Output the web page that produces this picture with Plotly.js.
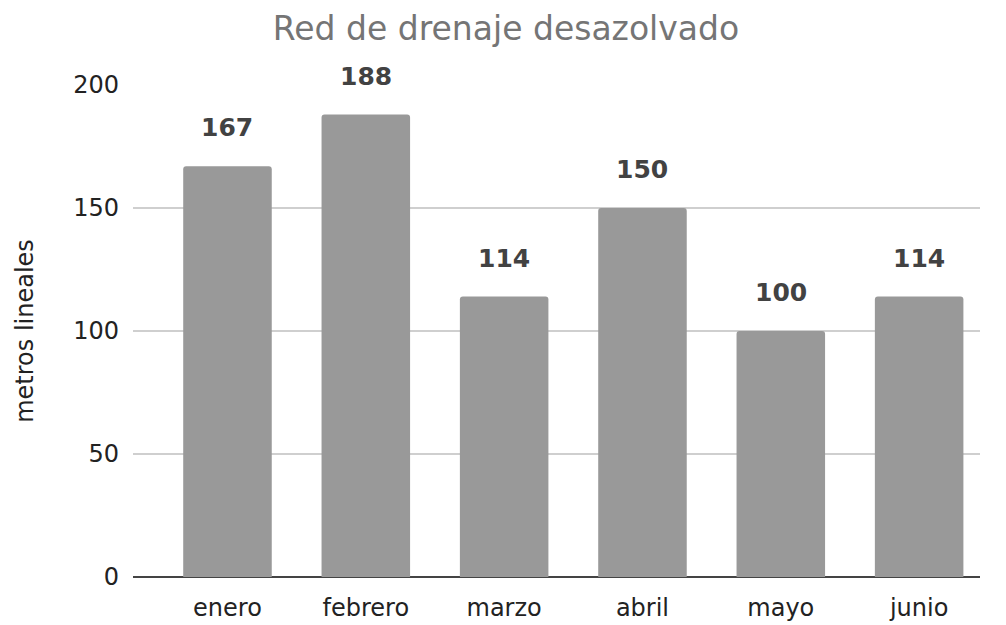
<!DOCTYPE html>
<html><head><meta charset="utf-8">
<script src="https://cdn.plot.ly/plotly-3.0.1.min.js"></script>
<style>html,body{margin:0;padding:0;background:#fff;}#chart{width:1006px;height:625px;}</style>
</head><body><div id="chart"></div>
<script>
const months = ["enero","febrero","marzo","abril","mayo","junio"];
const values = [167,188,114,150,100,114];
const yTicks = [0,50,100,150,200];

const trace = {
  type: "bar", x: months, y: values,
  marker: {color: "#999999", cornerradius: 3},
  width: 0.64, hoverinfo: "none"
};
const annotations = months.map((m,i)=>({
  x: m, y: values[i], xref: "x", yref: "y", text: String(values[i]),
  showarrow: false, yanchor: "bottom", yshift: 22,
  font: {family: "DejaVu Sans", size: 25, color: "#424242", weight: "bold"}
}));
const layout = {
  width: 1006, height: 625,
  margin: {l: 133, r: 26, t: 85, b: 48},
  paper_bgcolor: "#fff", plot_bgcolor: "#fff",
  font: {family: "DejaVu Sans", color: "#222"},
  title: {text: "Red de drenaje desazolvado", x: 0.503, xref: "container", xanchor: "center", y: 0.955, yanchor: "middle", font: {size: 33, color: "#757575"}},
  xaxis: {range: [-0.683, 5.44], showgrid: false, tickfont: {size: 24, color: "#222"}, ticks: "", showline: false, zeroline: false, ticklabelstandoff: 14},
  yaxis: {range: [0, 200], tickvals: yTicks, ticktext: yTicks.map(String), showgrid: true, gridcolor: "#cfcfcf", gridwidth: 1.5,
          zeroline: true, zerolinecolor: "#444", zerolinewidth: 2, tickfont: {size: 24, color: "#222"}, ticks: "", ticklen: 0, ticklabelstandoff: 13,
          title: {text: "metros lineales", font: {size: 24, color: "#222"}, standoff: 32}},
  annotations: annotations,
  showlegend: false, bargap: 0.36
};
Plotly.newPlot("chart", [trace], layout, {displayModeBar: false, staticPlot: true});
</script></body></html>
